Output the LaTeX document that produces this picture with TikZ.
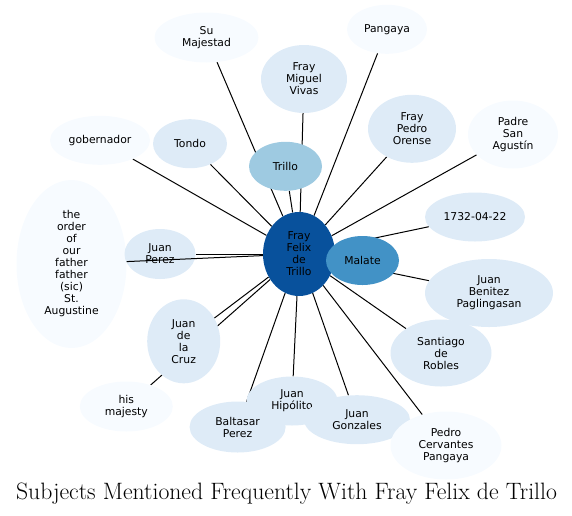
\documentclass[tikz,border=0pt]{standalone}
\usepackage{fontspec}
\newfontfamily\nodefont{DejaVu Sans}
\usetikzlibrary{shapes.geometric,backgrounds}
\definecolor{blueA}{HTML}{08519C}
\definecolor{blueB}{HTML}{4292C6}
\definecolor{blueC}{HTML}{9ECAE1}
\definecolor{blueD}{HTML}{DEEBF7}
\definecolor{blueE}{HTML}{F7FBFF}

\begin{document}
\begin{tikzpicture}[x=1pt, y=-1pt,
    subject/.style={ellipse, inner sep=0pt, align=center,
      font=\nodefont\fontsize{10.8}{12}\selectfont},
    dims/.style 2 args={minimum width=#1pt, minimum height=#2pt},
    link/.style={line width=1pt}]
  \useasboundingbox (0,0) rectangle (572,515);

  % Centre
  \node[subject, fill=blueA, dims={72}{84}] (fray) at (299,254) {Fray\\Felix\\de\\Trillo};
  \node[subject, fill=blueB, dims={73}{49}] (malate) at (362.5,260.5) {Malate};
  \node[subject, fill=blueC, dims={73}{49}] (trillo) at (285.5,166.3) {Trillo};

  % Top
  \node[subject, fill=blueE, dims={104}{50}] (majestad) at (206.5,37.5) {Su\\Majestad};
  \node[subject, fill=blueE, dims={80}{49}] (pangaya) at (387,29.3) {Pangaya};
  \node[subject, fill=blueD, dims={86}{68}] (vivas) at (304,79) {Fray\\Miguel\\Vivas};
  \node[subject, fill=blueE, dims={100}{49}] (gobernador) at (100,140.3) {gobernador};
  \node[subject, fill=blueD, dims={74}{49}] (tondo) at (190,143.7) {Tondo};
  \node[subject, fill=blueD, dims={88}{68}] (orense) at (412,128.8) {Fray\\Pedro\\Orense};
  \node[subject, fill=blueE, dims={90}{68}] (agustin) at (513,134.5) {Padre\\San\\Agustín};

  % Sides
  \node[subject, fill=blueE, dims={110}{168}] (order) at (71.5,264) {the\\order\\of\\our\\father\\father\\(sic)\\St.\\Augustine};
  \node[subject, fill=blueD, dims={71}{50}] (perez) at (160,254) {Juan\\Perez};
  \node[subject, fill=blueD, dims={100}{49}] (date) at (475,217) {1732-04-22};
  \node[subject, fill=blueD, dims={128}{68}] (benitez) at (489,293) {Juan\\Benitez\\Paglingasan};
  \node[subject, fill=blueD, dims={101}{67}] (robles) at (441,353) {Santiago\\de\\Robles};
  \node[subject, fill=blueD, dims={73}{84}] (cruz) at (183.7,341.3) {Juan\\de\\la\\Cruz};

  % Bottom
  \node[subject, fill=blueE, dims={93}{50}] (majesty) at (126.3,406.5) {his\\majesty};
  \node[subject, fill=blueD, dims={96}{51}] (baltasar) at (237.6,427) {Baltasar\\Perez};
  \node[subject, fill=blueD, dims={91}{49}] (hipolito) at (292,401) {Juan\\Hipólito};
  \node[subject, fill=blueD, dims={106}{49}] (gonzales) at (357,419.7) {Juan\\Gonzales};
  \node[subject, fill=blueE, dims={111}{68}] (cervantes) at (446,445.5) {Pedro\\Cervantes\\Pangaya};

  \begin{scope}[on background layer]
    \foreach \n in {malate, trillo, majestad, pangaya, vivas, gobernador, tondo,
        orense, agustin, perez, date, benitez, robles, cruz, majesty,
        baltasar, hipolito, gonzales, cervantes}
      \draw[link] (fray) -- (\n);
  \end{scope}
  \draw[link] (fray) -- (order);

  \node[anchor=base, font=\fontsize{23.7}{27}\selectfont] (title) at (286.5,499.3)
    {Subjects Mentioned Frequently With Fray Felix de Trillo};
\end{tikzpicture}
\end{document}
